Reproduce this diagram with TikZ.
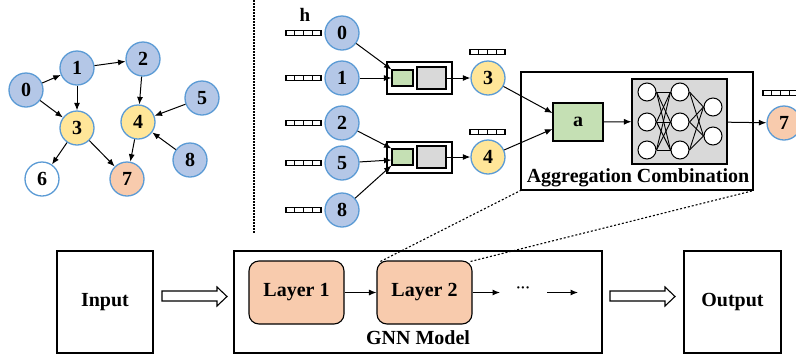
\documentclass[tikz,border=0pt]{standalone}
\usepackage{fontspec}
\setmainfont{Liberation Serif}
\usetikzlibrary{arrows.meta,calc}
\definecolor{blueF}{HTML}{B4C7E7}
\definecolor{blueD}{HTML}{5B9BD5}
\definecolor{yelF}{HTML}{FFE699}
\definecolor{oraF}{HTML}{F8CBAD}
\definecolor{greF}{HTML}{C5E0B4}
\definecolor{greyF}{HTML}{D9D9D9}
\tikzset{
  gnode/.style={circle, draw=blueD, line width=1.3pt, minimum size=34pt, inner sep=0pt,
    font=\bfseries\fontsize{20}{20}\selectfont},
  bn/.style={gnode, fill=blueF},
  yn/.style={gnode, fill=yelF},
  on/.style={gnode, fill=oraF},
  wn/.style={gnode, fill=white},
  arr/.style={-{Latex[length=7.5pt,width=6pt]}, line width=1pt},
  plainbox/.style={draw, line width=1.1pt, inner sep=0pt},
  lbl/.style={font=\bfseries\fontsize{20}{20}\selectfont, inner sep=0pt},
  nnc/.style={circle, draw, line width=1pt, fill=white, minimum size=18pt, inner sep=0pt},
  layerbox/.style={draw, line width=1.1pt, rounded corners=10pt, fill=oraF},
  dotline/.style={dash pattern=on 2pt off 2pt, line width=1.1pt},
  hollow/.style={draw, line width=1.1pt, fill=white},
  vec/.pic={\foreach \i in {0,...,3} \draw[line width=1.1pt,fill=white] (\i*8.75-17.5,-2.6) rectangle ++(8.75,5.2);}
}
\begin{document}
\begin{tikzpicture}[x=1pt,y=-1pt]
\clip (0,0) rectangle (796,360);
\fill[white] (0,0) rectangle (796,360);

% ---------- left graph ----------
\node[bn] (g0) at (26,90) {0};
\node[bn] (g1) at (77,68) {1};
\node[bn] (g2) at (143,59) {2};
\node[yn] (g3) at (77,128) {3};
\node[yn] (g4) at (138,122) {4};
\node[bn] (g5) at (202,98) {5};
\node[bn] (g8) at (190,160) {8};
\node[wn] (g6) at (42,179) {6};
\node[on] (g7) at (127,179) {7};
\draw[arr] (g0) -- (g1);
\draw[arr] (g1) -- (g2);
\draw[arr] (g0) -- (g3);
\draw[arr] (g1) -- (g3);
\draw[arr] (g2) -- (g4);
\draw[arr] (g5) -- (g4);
\draw[arr] (g8) -- (g4);
\draw[arr] (g3) -- (g6);
\draw[arr] (g3) -- (g7);
\draw[arr] (g4) -- (g7);

% ---------- separator ----------
\coordinate (sepT) at (254,0);
\coordinate (sepB) at (254,233);
\draw[dash pattern=on 1.5pt off 1.5pt, line width=1.1pt] (sepT) -- (sepB);

% ---------- middle ----------
\node[lbl, font=\bfseries\fontsize{19}{19}\selectfont] (h) at (305,15) {h};
\node[bn] (m0) at (342,33) {0};
\node[bn] (m1) at (342,78) {1};
\node[bn] (m2) at (342,123) {2};
\node[bn] (m5) at (342,163) {5};
\node[bn] (m8) at (342,210) {8};
\foreach \y in {33,78,123,163,210} \pic at (303.5,\y) {vec};

\node[plainbox, minimum width=65pt, minimum height=32pt] (b1) at (419.5,78) {};
\node[plainbox, fill=greF, minimum width=21pt, minimum height=16pt] (gr1) at (402.5,78) {};
\node[plainbox, fill=greyF, minimum width=29pt, minimum height=22pt] (gy1) at (431.5,78) {};
\node[plainbox, minimum width=65pt, minimum height=31pt] (b2) at (419.5,157.5) {};
\node[plainbox, fill=greF, minimum width=21pt, minimum height=16pt] (gr2) at (402.5,157) {};
\node[plainbox, fill=greyF, minimum width=29pt, minimum height=22pt] (gy2) at (431.5,157) {};

\draw[arr] (m0) -- (gr1.north west);
\draw[arr] (m1) -- (gr1.west);
\draw[arr] (m2) -- (gr2.north west);
\draw[arr] (m5) -- ($(gr2.west)+(0,3)$);
\draw[arr] (m8) -- (gr2.south west);

\node[yn] (m3) at (488,78) {3};
\node[yn] (m4) at (488,157) {4};
\pic at (487.5,52) {vec};
\pic at (487.5,132) {vec};
\draw[arr] (gy1.east) -- (m3);
\draw[arr] (gy2.east) -- (m4);

% ---------- aggregation box ----------
\node[plainbox, minimum width=232pt, minimum height=118pt] (agg) at (637,131) {};
\node[lbl] (aggl) at (638,178) {Aggregation Combination};
\node[plainbox, fill=greF, minimum width=50pt, minimum height=38pt, font=\bfseries\fontsize{20}{20}\selectfont] (a) at (578,122) {a};
\node[plainbox, fill=greyF, minimum width=95pt, minimum height=85pt] (nn) at (679.5,121.5) {};
\node[nnc] (c11) at (647,92) {};
\node[nnc] (c12) at (647,122) {};
\node[nnc] (c13) at (647,150) {};
\node[nnc] (c21) at (680,92) {};
\node[nnc] (c22) at (680,122) {};
\node[nnc] (c23) at (680,150) {};
\node[nnc] (c31) at (713,107) {};
\node[nnc] (c32) at (713,136) {};
\foreach \i in {c11,c12,c13} \foreach \j in {c21,c22,c23} \draw[line width=0.9pt] (\i.east) -- (\j.west);
\foreach \i in {c21,c22,c23} \foreach \j in {c31,c32} \draw[line width=0.9pt] (\i.east) -- (\j.west);

\draw[arr] (m3) -- ($(a.west)+(0,-9)$);
\draw[arr] (m4) -- ($(a.west)+(0,7)$);
\draw[arr] (a) -- (nn);
\node[on] (m7) at (784,123) {7};
\pic at (780.5,93) {vec};
\draw[arr] (nn) -- (m7);

% ---------- bottom ----------
\node[plainbox, minimum width=96pt, minimum height=102pt, lbl] (in) at (105,302) {Input};
\node[plainbox, minimum width=368pt, minimum height=102pt] (gnn) at (418,302) {};
\node[layerbox, minimum width=95pt, minimum height=63pt, lbl] (L1) at (296.5,292.5) {Layer 1};
\node[layerbox, minimum width=95pt, minimum height=63pt, lbl] (L2) at (424.5,292.5) {Layer 2};
\node[lbl] (gnnl) at (418,338) {GNN Model};
\draw[arr] (L1) -- (L2);
\coordinate (d1) at (500,292.5);
\node[inner sep=0pt, font=\bfseries\fontsize{14}{14}\selectfont] (dots) at (523,290) {···};
\coordinate (d2) at (547,292.5);
\coordinate (d3) at (578,292.5);
\draw[arr] (L2) -- (d1);
\draw[arr] (d2) -- (d3);
\node[plainbox, minimum width=97pt, minimum height=102pt, lbl] (out) at (732.5,302) {Output};

\draw[hollow] (162,291) -- (217,291) -- (217,287) -- (227,296.5) -- (217,306) -- (217,301) -- (162,301) -- cycle;
\draw[hollow] (610,291) -- (665,291) -- (665,287) -- (675,296.5) -- (665,306) -- (665,301) -- (610,301) -- cycle;

\draw[dotline] ($(L2.north west)+(4,1)$) -- (agg.south west);
\draw[dotline] ($(L2.north east)+(-2,1)$) -- (agg.south east);
\end{tikzpicture}
\end{document}
